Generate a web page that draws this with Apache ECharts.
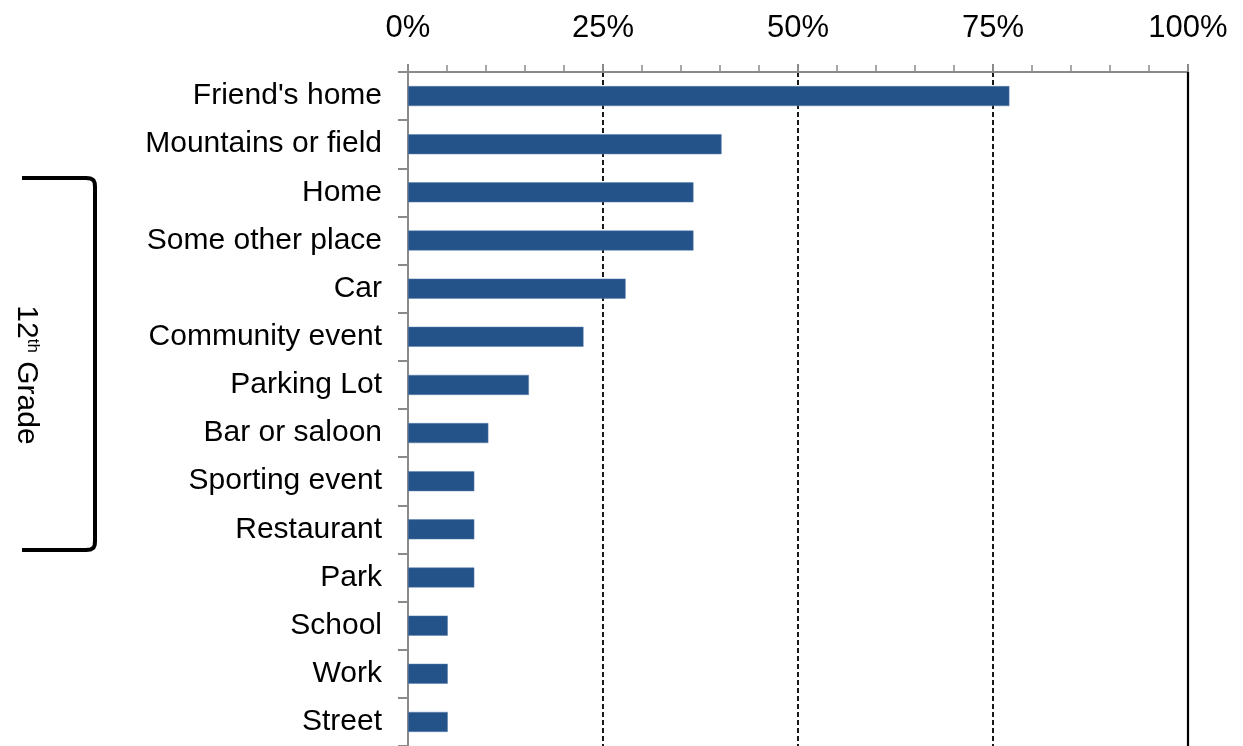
<!DOCTYPE html>
<html>
<head>
<meta charset="utf-8">
<script src="https://cdn.jsdelivr.net/npm/echarts@6/dist/echarts.min.js"></script>
<style>
html,body{margin:0;padding:0;background:#fff;}
#chart{width:1243px;height:746px;}
</style>
</head>
<body>
<div id="chart"></div>
<script>
const categories = ["Friend's home","Mountains or field","Home","Some other place","Car","Community event","Parking Lot","Bar or saloon","Sporting event","Restaurant","Park","School","Work","Street"];
const values = [77.1, 40.2, 36.6, 36.6, 27.9, 22.5, 15.5, 10.3, 8.5, 8.5, 8.5, 5.1, 5.1, 5.1];
const xTicks = [0, 25, 50, 75, 100];

const FONT = '"Liberation Sans", Arial, sans-serif';
const chart = echarts.init(document.getElementById('chart'));
chart.setOption({
  animation: false,
  backgroundColor: '#fff',
  grid: {left: 408, top: 72, width: 780, height: 678, containLabel: false},
  xAxis: {
    type: 'value', position: 'top',
    min: xTicks[0], max: xTicks[xTicks.length - 1], interval: xTicks[1] - xTicks[0],
    axisLine: {show: true, lineStyle: {color: '#8a8a8a', width: 2}},
    axisTick: {show: true, length: 8, lineStyle: {color: '#8a8a8a', width: 2}},
    minorTick: {show: true, splitNumber: 5, length: 7, lineStyle: {color: '#8a8a8a', width: 1.5}},
    axisLabel: {formatter: '{value}%', fontSize: 31, color: '#000', fontFamily: FONT, margin: 28},
    splitLine: {show: true, showMinLine: false, lineStyle: {color: '#000', width: 1.8, type: [5, 3]}}
  },
  yAxis: {
    type: 'category', data: categories, inverse: true,
    axisLine: {show: true, lineStyle: {color: '#8a8a8a', width: 2}},
    axisTick: {show: true, length: 10, lineStyle: {color: '#8a8a8a', width: 2}},
    axisLabel: {fontSize: 30, color: '#000', fontFamily: FONT, margin: 26, padding: [4, 0, 0, 0]},
    splitLine: {show: false}
  },
  series: [{
    type: 'bar', data: values, barWidth: 20,
    itemStyle: {color: '#245389', borderColor: '#5b7fae', borderWidth: 0.5},
    markLine: {
      silent: true, symbol: 'none', label: {show: false},
      lineStyle: {color: '#000', width: 2.2, type: 'solid'},
      data: [{xAxis: xTicks[xTicks.length - 1]}]
    }
  }],
  graphic: [
    {
      type: 'polyline',
      shape: {points: [[22,178],[86,178],[90.5,178.6],[93.5,180.3],[94.7,183],[95,187],[95,541],[94.7,545],[93.5,547.7],[90.5,549.4],[86,550],[22,550]]},
      style: {fill: null, stroke: '#000', lineWidth: 4, lineJoin: 'round'}
    },
    {
      type: 'text', x: 26, y: 375, rotation: -Math.PI / 2,
      style: {
        text: '{a|12}{b|th}{a| Grade}',
        align: 'center', verticalAlign: 'middle',
        rich: {
          a: {fontSize: 30, fontFamily: FONT, fill: '#000', color: '#000'},
          b: {fontSize: 17, fontFamily: FONT, fill: '#000', color: '#000', verticalAlign: 'top', padding: [0, 0, 12, 0]}
        }
      }
    }
  ]
});
</script>
</body>
</html>
